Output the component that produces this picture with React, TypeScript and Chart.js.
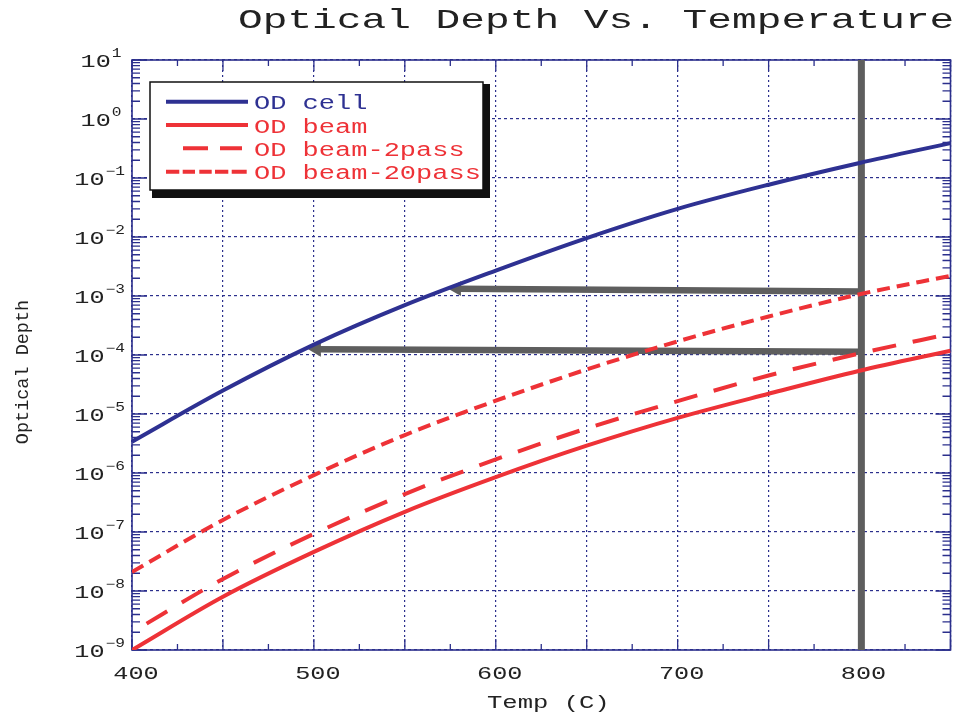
import React, { useEffect, useRef } from "react";
import { Chart, registerables } from "chart.js";

Chart.register(...registerables);

// ---------- data ----------
const TEMPS = [400, 450, 500, 550, 600, 650, 700, 750, 800, 850];
const OD_CELL = [3.4e-6, 2.5e-5, 1.5e-4, 7.0e-4, 2.7e-3, 9.6e-3, 3.0e-2, 7.7e-2, 0.18, 0.39];
const OD_BEAM = [1.0e-9, 8.0e-9, 4.6e-8, 2.2e-7, 8.5e-7, 2.9e-6, 8.6e-6, 2.2e-5, 5.4e-5, 1.18e-4];
const OD_BEAM_2PASS = [2.0e-9, 1.6e-8, 9.3e-8, 4.4e-7, 1.7e-6, 5.7e-6, 1.65e-5, 4.5e-5, 1.06e-4, 2.3e-4];
const OD_BEAM_20PASS = [2.1e-8, 1.6e-7, 9.2e-7, 4.4e-6, 1.68e-5, 5.7e-5, 1.7e-4, 4.5e-4, 1.07e-3, 2.2e-3];

const SERIES_LABELS = ["OD cell", "OD beam", "OD beam-2pass", "OD beam-20pass"];

// marker line at 800 C and the two arrows (temp, optical depth)
const MARKER_X = [801, 801];
const MARKER_Y = [1e-9, 10];
const ARROW_UPPER_X = [801, 578.5];
const ARROW_UPPER_Y = [1.19e-3, 1.33e-3];
const ARROW_LOWER_X = [801, 501.5];
const ARROW_LOWER_Y = [1.14e-4, 1.25e-4];

const X_TICK_LABELS = [400, 500, 600, 700, 800];
const Y_DECADES = [-9, -8, -7, -6, -5, -4, -3, -2, -1, 0, 1];

const TITLE = "Optical Depth Vs. Temperature";
const X_TITLE = "Temp (C)";
const Y_TITLE = "Optical Depth";

// ---------- styles ----------
const BLUE = "#2e3192";
const RED = "#ee3237";
const GRAY = "#5e5e5e";
const NAVY = "#2b2f8c";
const TEXT = "#222222";
const FONT = '"Liberation Mono", "DejaVu Sans Mono", monospace';

const zip = (xs: number[], ys: number[]) => xs.map((x, i) => ({ x, y: ys[i] }));

function stretchText(
  ctx: CanvasRenderingContext2D,
  text: string,
  x: number,
  y: number,
  size: number,
  sx: number,
  align: "left" | "right" | "center",
  color: string
) {
  ctx.save();
  ctx.font = `${size}px ${FONT}`;
  ctx.fillStyle = color;
  ctx.textBaseline = "alphabetic";
  ctx.textAlign = "left";
  const w = ctx.measureText(text).width * sx;
  const x0 = align === "left" ? x : align === "right" ? x - w : x - w / 2;
  ctx.translate(x0, y);
  ctx.scale(sx, 1);
  ctx.fillText(text, 0, 0);
  ctx.restore();
  return w;
}

const decorPlugin = {
  id: "decor",
  beforeDatasetsDraw(chart: any) {
    const { ctx, chartArea: a, scales } = chart;
    const xs = scales.x;
    const ys = scales.y;
    ctx.save();
    ctx.strokeStyle = NAVY;
    ctx.lineWidth = 1.3;
    ctx.beginPath();
    // x ticks every 25 on bottom and top, inward
    for (let t = 400; t <= 850; t += 25) {
      const px = xs.getPixelForValue(t);
      const len = t % 50 === 0 ? 11 : 6;
      ctx.moveTo(px, a.bottom);
      ctx.lineTo(px, a.bottom - len);
      ctx.moveTo(px, a.top);
      ctx.lineTo(px, a.top + len);
    }
    // y ticks: decades + log minors on left and right, inward
    for (let d = -9; d <= 1; d++) {
      for (let k = 1; k <= 9; k++) {
        if (d === 1 && k > 1) break;
        const py = ys.getPixelForValue(k * Math.pow(10, d));
        const len = k === 1 ? 15 : 8;
        ctx.moveTo(a.left, py);
        ctx.lineTo(a.left + len, py);
        ctx.moveTo(a.right, py);
        ctx.lineTo(a.right - len, py);
      }
    }
    ctx.stroke();
    ctx.lineWidth = 1.6;
    ctx.strokeRect(a.left, a.top, a.right - a.left, a.bottom - a.top);
    ctx.restore();
  },
  afterDatasetsDraw(chart: any) {
    const { ctx } = chart;
    // legend box with drop shadow
    const bx = 150, by = 82, bw = 333, bh = 108;
    ctx.save();
    ctx.fillStyle = "#111";
    ctx.fillRect(bx + 2, by + 2, bw + 5, bh + 6);
    ctx.fillStyle = "#fff";
    ctx.fillRect(bx, by, bw, bh);
    ctx.strokeStyle = "#111";
    ctx.lineWidth = 1.5;
    ctx.strokeRect(bx, by, bw, bh);

    const rows = [101.7, 125, 148.3, 171.7];
    const ds = chart.data.datasets;
    const samples: number[][][] = [
      [[166, 248]],
      [[166, 248]],
      [[183, 208], [220, 242]],
      [[166, 179.3], [182.7, 195], [199.3, 211.7], [215, 228.3], [231.7, 246.7]],
    ];
    for (let i = 0; i < 4; i++) {
      const y = rows[i];
      ctx.strokeStyle = ds[i].borderColor;
      ctx.lineWidth = 4;
      ctx.lineCap = "butt";
      ctx.beginPath();
      for (const [s, e] of samples[i]) {
        ctx.moveTo(s, y);
        ctx.lineTo(e, y);
      }
      ctx.stroke();
      stretchText(ctx, ds[i].label, 254, y + 7.6, 19.5, 1.385, "left", ds[i].borderColor);
    }
    ctx.restore();
  },
  afterDraw(chart: any) {
    const { ctx, scales, chartArea: a } = chart;
    const xs = scales.x;
    const ys = scales.y;
    // title
    stretchText(ctx, TITLE, 238, 28, 28, 1.47, "left", TEXT);
    // x tick labels
    for (const t of X_TICK_LABELS) {
      stretchText(ctx, String(t), xs.getPixelForValue(t) + 4, 679, 18, 1.4, "center", TEXT);
    }
    // y tick labels 10^d
    for (const d of Y_DECADES) {
      const py = ys.getPixelForValue(Math.pow(10, d));
      const exp = d < 0 ? "\u2212" + Math.abs(d) : String(d);
      const right = d < 0 ? 125 : 121.5;
      const ew = stretchText(ctx, exp, right, py - 3, 12, 1.35, "right", TEXT);
      stretchText(ctx, "10", right - ew - 1, py + 6.5, 18, 1.4, "right", TEXT);
    }
    // axis titles
    stretchText(ctx, X_TITLE, 487, 708, 18, 1.42, "left", TEXT);
    ctx.save();
    ctx.translate(27.5, (a.top + a.bottom) / 2 + 17);
    ctx.rotate(-Math.PI / 2);
    ctx.font = `18.5px ${FONT}`;
    ctx.fillStyle = TEXT;
    ctx.textAlign = "center";
    ctx.textBaseline = "alphabetic";
    ctx.fillText(Y_TITLE, 0, 0);
    ctx.restore();
  },
};

export default function App() {
  const ref = useRef<HTMLCanvasElement>(null);

  useEffect(() => {
    if (!ref.current) return;
    const line = (label: string, ys: number[], color: string, dash: number[], offset = 0) => ({
      label,
      data: zip(TEMPS, ys),
      borderColor: color,
      backgroundColor: color,
      borderWidth: 4,
      borderDash: dash,
      borderDashOffset: offset,
      pointRadius: 0,
      cubicInterpolationMode: "monotone" as const,
      fill: false,
    });
    const gray = (xs: number[], ys: number[], width: number, head: boolean) => ({
      label: "",
      data: zip(xs, ys),
      borderColor: GRAY,
      backgroundColor: GRAY,
      borderWidth: width,
      borderCapStyle: "butt" as const,
      pointRadius: head ? [0, 8.5] : 0,
      pointStyle: "triangle" as const,
      pointRotation: -90,
      pointBackgroundColor: GRAY,
      pointBorderColor: GRAY,
      pointBorderWidth: 0,
      tension: 0,
      fill: false,
    });

    const chart = new Chart(ref.current, {
      type: "line",
      data: {
        datasets: [
          line(SERIES_LABELS[0], OD_CELL, BLUE, []),
          line(SERIES_LABELS[1], OD_BEAM, RED, []),
          line(SERIES_LABELS[2], OD_BEAM_2PASS, RED, [24, 17], 24),
          line(SERIES_LABELS[3], OD_BEAM_20PASS, RED, [13, 7], 0),
          gray(MARKER_X, MARKER_Y, 7, false),
          gray(ARROW_UPPER_X, ARROW_UPPER_Y, 6.5, true),
          gray(ARROW_LOWER_X, ARROW_LOWER_Y, 6.5, true),
        ] as any,
      },
      options: {
        animation: false,
        responsive: true,
        maintainAspectRatio: false,
        layout: { padding: { left: 0, right: 7, top: 60, bottom: 0 } },
        plugins: {
          legend: { display: false },
          title: { display: false },
          tooltip: { enabled: false },
        },
        scales: {
          x: {
            type: "linear",
            min: 400,
            max: 850,
            ticks: { display: false, stepSize: 50 },
            grid: { color: NAVY, lineWidth: 1.2, drawTicks: false },
            border: { display: false, dash: [2, 3] },
            afterFit: (s: any) => {
              s.height = 67;
            },
          },
          y: {
            type: "logarithmic",
            min: 1e-9,
            max: 10,
            ticks: { display: false },
            grid: { color: NAVY, lineWidth: 1.2, drawTicks: false },
            border: { display: false, dash: [3, 3] },
            afterBuildTicks: (s: any) => {
              s.ticks = Y_DECADES.map((d) => ({ value: Math.pow(10, d) }));
            },
            afterFit: (s: any) => {
              s.width = 132;
            },
          },
        },
      } as any,
      plugins: [decorPlugin],
    });
    return () => chart.destroy();
  }, []);

  return (
    <div style={{ position: "absolute", left: 0, top: 0, width: 959, height: 717, background: "#fff" }}>
      <canvas ref={ref} />
    </div>
  );
}
